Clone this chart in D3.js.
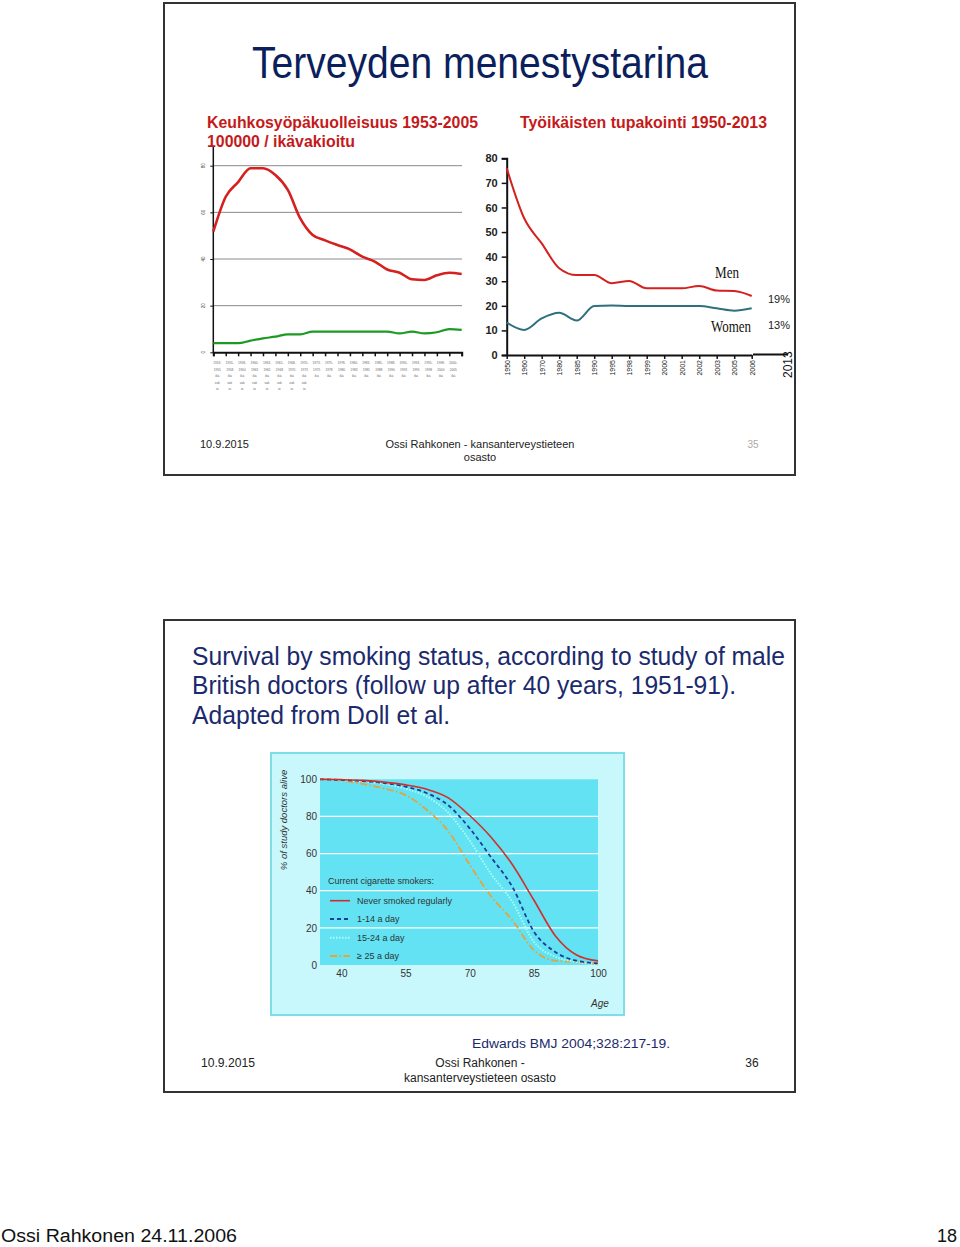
<!DOCTYPE html>
<html><head><meta charset="utf-8">
<script src="https://cdn.jsdelivr.net/npm/d3@7"></script>
<style>
body{margin:0;background:#fff;}
svg{display:block;font-family:"Liberation Sans",Arial,sans-serif;}
</style></head><body>
<div id="chart"></div>
<script>
// ---- Chart 1: lung cancer mortality (top-left) ----
const lcPeriods = ["1953","1955","1958","1960","1963","1965","1968","1970","1973","1975","1978","1980","1983","1985","1988","1990","1993","1995","1998","2000","2005"];
const lcMen   = [51.7, 66.7, 73, 78.9, 78.9, 76, 69.6, 57.4, 50.3, 48, 46, 44.1, 41, 38.9, 35.5, 34.1, 31.3, 31, 33, 34.1, 33.6];
const lcWomen = [3.9, 3.9, 3.9, 5.0, 6.0, 6.7, 7.7, 7.7, 8.9, 8.9, 8.9, 8.9, 8.9, 8.9, 8.9, 8.1, 8.9, 8.1, 8.6, 9.9, 9.6];
const lcTicks = [0, 20, 40, 60, 80];

// ---- Chart 2: smoking among working-age (top-right) ----
const smYears = ["1950","1960","1970","1980","1985","1990","1995","1998","1999","2000","2001","2002","2003","2005","2006"];
const smMen   = [76, 55.6, 45.4, 35.3, 32.5, 32.5, 29.2, 30.1, 27.1, 27.1, 27.1, 28.1, 26.2, 26.0, 24.0];
const smWomen = [13.2, 10.2, 14.9, 17.2, 14.0, 19.9, 20.1, 19.9, 19.9, 19.9, 19.9, 19.9, 19.0, 18.0, 19.0];
const smTicks = [0, 10, 20, 30, 40, 50, 60, 70, 80];

// ---- Chart 3: survival by smoking status ----
const ages      = [35, 40, 45, 50, 55, 60, 65, 70, 75, 80, 85, 90, 95, 100];
const svNever   = [100, 99.8, 99.4, 98.5, 97, 94.6, 90, 80.5, 68.8, 54, 35, 15.8, 5.4, 2.2];
const svLight   = [100, 99.6, 99, 98, 96, 92.5, 86, 73.6, 58, 42, 18, 7, 2.3, 0.9];
const svMedium  = [100, 99.5, 98.8, 97.5, 95, 90.7, 82, 67, 49, 34, 12.5, 4.5, 1.6, 0.4];
const svHeavy   = [100, 99.3, 97.5, 95, 91.5, 83.5, 72, 54, 37, 24, 8, 2.3, 1.6, 0.4];
const svXTicks  = [40, 55, 70, 85, 100];
const svYTicks  = [0, 20, 40, 60, 80, 100];
const svLegend  = ["Never smoked regularly", "1-14 a day", "15-24 a day", "\u2265 25 a day"];

const W = 960, H = 1247;
const svg = d3.select("#chart").append("svg").attr("width", W).attr("height", H);
svg.append("rect").attr("width", W).attr("height", H).attr("fill", "#fff");

function slideFrame(y0, y1){
  svg.append("rect").attr("x",164).attr("y",y0).attr("width",631).attr("height",y1-y0)
    .attr("fill","#fff").attr("stroke","#333").attr("stroke-width",2);
}
slideFrame(3, 475);
slideFrame(620, 1092);

function txt(x,y,s,opt={}){
  const t = svg.append("text").attr("x",x).attr("y",y).text(s)
    .attr("font-size",opt.size||12).attr("fill",opt.fill||"#111")
    .attr("text-anchor",opt.anchor||"start");
  if(opt.weight) t.attr("font-weight",opt.weight);
  if(opt.family) t.attr("font-family",opt.family);
  if(opt.style) t.attr("font-style",opt.style);
  if(opt.len) t.attr("textLength",opt.len).attr("lengthAdjust","spacingAndGlyphs");
  return t;
}

// ---------- Slide 1 ----------
txt(252, 78, "Terveyden menestystarina", {size:44, fill:"#0b1f5c", len:456});
txt(207, 128, "Keuhkosyöpäkuolleisuus 1953-2005", {size:16, fill:"#c41a1a", weight:"bold", len:271});
txt(207, 147, "100000 / ikävakioitu", {size:16, fill:"#c41a1a", weight:"bold", len:148});
txt(520, 128, "Työikäisten tupakointi 1950-2013", {size:16, fill:"#c41a1a", weight:"bold", len:247});

// Chart 1
{
  const x = d3.scaleLinear().domain([0, lcPeriods.length-1]).range([213.3, 461.7]);
  const y = d3.scaleLinear().domain([0, 80]).range([352.3, 165.7]);
  const g = svg.append("g");
  g.selectAll("line.grid").data(lcTicks.filter(d=>d>0)).join("line")
    .attr("x1",213).attr("x2",462).attr("y1",d=>y(d)).attr("y2",d=>y(d))
    .attr("stroke","#8a8a8a").attr("stroke-width",1);
  g.append("line").attr("x1",213.3).attr("x2",213.3).attr("y1",147).attr("y2",352.3)
    .attr("stroke","#111").attr("stroke-width",1.5);
  const xa = g.append("g").attr("transform","translate(0,352.3)")
    .call(d3.axisBottom(x).tickValues(d3.range(lcPeriods.length)).tickSize(4).tickFormat(""));
  xa.select(".domain").attr("stroke","#111").attr("stroke-width",2);
  xa.selectAll(".tick line").attr("stroke","#111").attr("stroke-width",1.5);
  const ya = g.append("g").attr("transform","translate(213.3,0)")
    .call(d3.axisLeft(y).tickValues(lcTicks).tickSize(3).tickFormat(""));
  ya.select(".domain").remove();
  ya.selectAll(".tick line").attr("stroke","#111");
  g.selectAll("text.yl").data(lcTicks).join("text")
    .attr("transform",d=>`translate(205,${y(d)}) rotate(-90)`)
    .attr("text-anchor","middle").attr("font-size",4.5).attr("fill","#444").text(d=>d);
  lcPeriods.forEach((p,i)=>{
    if(i===lcPeriods.length-1) return;
    const t = g.append("text").attr("x",x(i)+4).attr("y",364).attr("font-size",3.2)
      .attr("fill","#666").attr("text-anchor","middle");
    const rows = i<8 ? [p+"-", lcPeriods[i+1], "ikä", "vak", "io"] : [p+"-", lcPeriods[i+1], "ikä"];
    rows.forEach((r,k)=>t.append("tspan").attr("x",x(i)+4).attr("dy",k===0?0:6.5).text(r));
  });
  const line = d3.line().x((d,i)=>x(i)).y(d=>y(d)).curve(d3.curveMonotoneX);
  g.append("path").datum(lcMen).attr("d",line).attr("fill","none").attr("stroke","#d4201e").attr("stroke-width",2.6);
  g.append("path").datum(lcWomen).attr("d",line).attr("fill","none").attr("stroke","#1c9a22").attr("stroke-width",2.2);
}

// Chart 2
{
  const x = d3.scalePoint().domain(smYears).range([506.7, 751.7]);
  const y = d3.scaleLinear().domain([0, 80]).range([355, 158.3]);
  const g = svg.append("g");
  const ya = g.append("g").attr("transform","translate(506.7,0)")
    .call(d3.axisLeft(y).tickValues(smTicks).tickSize(5).tickPadding(4));
  ya.select(".domain").attr("stroke","#111").attr("stroke-width",2);
  ya.selectAll(".tick line").attr("stroke","#111").attr("stroke-width",1.5);
  ya.selectAll(".tick text").attr("font-size",11).attr("font-weight","bold").attr("fill","#222")
    .attr("font-family","Liberation Sans, Arial, sans-serif");
  const xa = g.append("g").attr("transform","translate(0,355)")
    .call(d3.axisBottom(x).tickSize(4).tickSizeOuter(0));
  xa.select(".domain").attr("stroke","#111").attr("stroke-width",2);
  xa.selectAll(".tick line").attr("stroke","#111").attr("stroke-width",1.5);
  xa.selectAll(".tick text").attr("font-size",7).attr("fill","#222")
    .attr("font-family","Liberation Sans, Arial, sans-serif")
    .attr("transform","rotate(-90)").attr("text-anchor","end")
    .attr("x",-5).attr("y",0).attr("dy","0.35em");
  g.append("line").attr("x1",753).attr("x2",788).attr("y1",354.5).attr("y2",354.5).attr("stroke","#111").attr("stroke-width",2);
  svg.append("text").attr("transform","translate(792,378) rotate(-90)").attr("font-size",12)
    .attr("fill","#111").text("2013");
  const line = d3.line().x((d,i)=>x(smYears[i])).y(d=>y(d)).curve(d3.curveMonotoneX);
  g.append("path").datum(smMen).attr("d",line).attr("fill","none").attr("stroke","#d4201e").attr("stroke-width",2);
  g.append("path").datum(smWomen).attr("d",line).attr("fill","none").attr("stroke","#2f6f7e").attr("stroke-width",2);
  txt(715, 278, "Men", {size:16, family:"Liberation Serif, serif", fill:"#111", len:24});
  txt(711, 332, "Women", {size:16, family:"Liberation Serif, serif", fill:"#111", len:40});
  txt(768, 303, "19%", {size:11, fill:"#222"});
  txt(768, 329, "13%", {size:11, fill:"#222"});
}

// Slide 1 footer
txt(200, 448, "10.9.2015", {size:11, fill:"#222"});
txt(480, 448, "Ossi Rahkonen - kansanterveystieteen", {size:11, fill:"#222", anchor:"middle"});
txt(480, 461, "osasto", {size:11, fill:"#222", anchor:"middle"});
txt(753, 448, "35", {size:10, fill:"#aaa", anchor:"middle"});

// ---------- Slide 2 ----------
txt(192, 665, "Survival by smoking status, according to study of male", {size:25, fill:"#1a2a6c", len:593});
txt(192, 694, "British doctors (follow up after 40 years, 1951-91).", {size:25, fill:"#1a2a6c", len:544});
txt(192, 724, "Adapted from Doll et al.", {size:25, fill:"#1a2a6c", len:258});

{
  svg.append("rect").attr("x",271).attr("y",753).attr("width",353).attr("height",262)
    .attr("fill","#c9f8fc").attr("stroke","#7fdde6").attr("stroke-width",2);
  const x = d3.scaleLinear().domain([35, 100]).range([320, 598]);
  const y = d3.scaleLinear().domain([0, 100]).range([965, 779.3]);
  const g = svg.append("g");
  g.append("rect").attr("x",320).attr("y",y(100)).attr("width",278).attr("height",y(0)-y(100)).attr("fill","#62e2f2");
  g.selectAll("line.grid").data(svYTicks.filter(d=>d>0 && d<100)).join("line")
    .attr("x1",320).attr("x2",598).attr("y1",d=>y(d)).attr("y2",d=>y(d))
    .attr("stroke","#ffffff").attr("stroke-width",1.3);
  const ya = g.append("g").attr("transform","translate(320,0)")
    .call(d3.axisLeft(y).tickValues(svYTicks).tickSize(0).tickPadding(3));
  ya.select(".domain").remove();
  ya.selectAll(".tick text").attr("font-size",10).attr("fill","#333")
    .attr("font-family","Liberation Sans Narrow, Liberation Sans, Arial, sans-serif");
  const xa = g.append("g").attr("transform","translate(0,965)")
    .call(d3.axisBottom(x).tickValues(svXTicks).tickSize(0).tickPadding(5));
  xa.select(".domain").remove();
  xa.selectAll(".tick text").attr("font-size",10).attr("fill","#333")
    .attr("font-family","Liberation Sans Narrow, Liberation Sans, Arial, sans-serif");
  svg.append("text").attr("transform","translate(287,820) rotate(-90)").attr("text-anchor","middle")
    .attr("font-size",9.5).attr("font-style","italic").attr("fill","#333").text("% of study doctors alive");
  txt(591, 1007, "Age", {size:10, style:"italic", fill:"#333"});

  const series = [
    {v:svNever,  c:"#d0302c", w:1.6, dash:null},
    {v:svLight,  c:"#1f3d96", w:1.8, dash:"4,3"},
    {v:svMedium, c:"#a8fff4", w:2, dash:"1.5,1.5"},
    {v:svHeavy,  c:"#e8a23a", w:1.8, dash:"7,2.5,1.5,2.5"}
  ];
  const line = d3.line().x((d,i)=>x(ages[i])).y(d=>y(d)).curve(d3.curveMonotoneX);
  series.slice().reverse().forEach(s=>{
    const p = g.append("path").datum(s.v).attr("d",line).attr("fill","none")
      .attr("stroke",s.c).attr("stroke-width",s.w);
    if(s.dash) p.attr("stroke-dasharray",s.dash);
  });
  txt(328, 884, "Current cigarette smokers:", {size:9, fill:"#333"});
  const ly = [900.7, 919, 937.7, 956];
  series.forEach((s,i)=>{
    const l = g.append("line").attr("x1",330).attr("x2",350).attr("y1",ly[i]).attr("y2",ly[i])
      .attr("stroke",s.c).attr("stroke-width",s.w);
    if(s.dash) l.attr("stroke-dasharray",s.dash);
    txt(357, ly[i]+3.2, svLegend[i], {size:9, fill:"#333"});
  });
}

txt(472, 1048, "Edwards BMJ 2004;328:217-19.", {size:13, fill:"#1a2a6c", len:198});
txt(201, 1067, "10.9.2015", {size:12, fill:"#222", len:54});
txt(480, 1067, "Ossi Rahkonen -", {size:12, fill:"#222", anchor:"middle"});
txt(480, 1082, "kansanterveystieteen osasto", {size:12, fill:"#222", anchor:"middle"});
txt(752, 1067, "36", {size:12, fill:"#222", anchor:"middle"});

// page footer
txt(1, 1242, "Ossi Rahkonen 24.11.2006", {size:18, fill:"#111", len:236});
txt(957, 1242, "18", {size:18, fill:"#111", anchor:"end"});
</script>
</body></html>
